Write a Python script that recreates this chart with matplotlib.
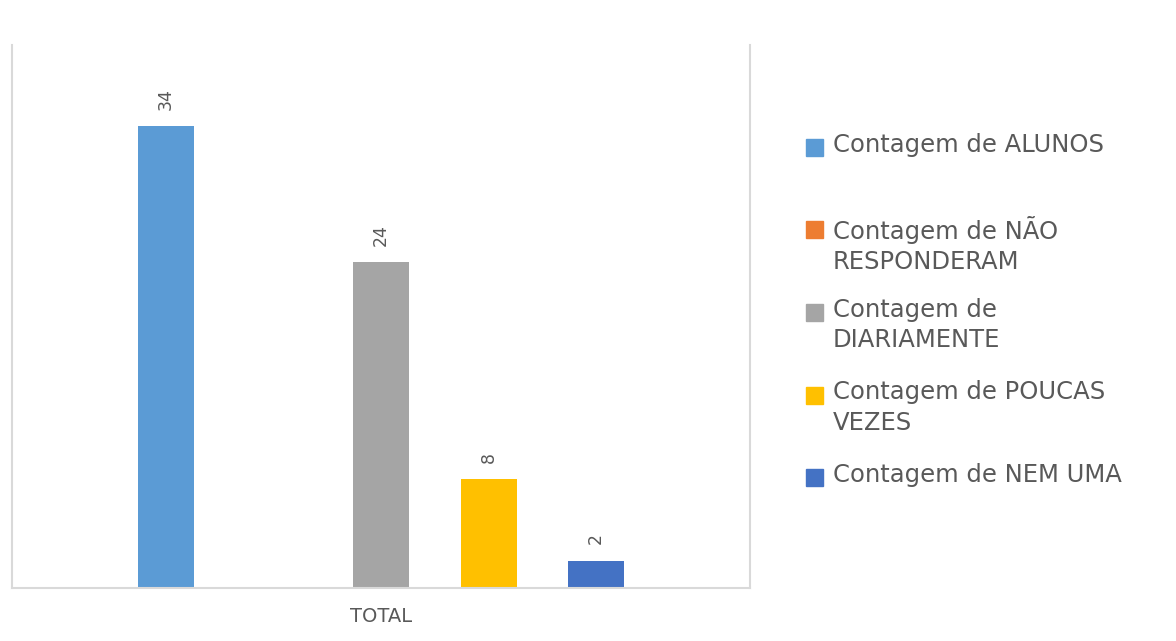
import matplotlib.pyplot as plt
import matplotlib.patches as mpatches

# data
categories = ["TOTAL"]
series_names = [
    "Contagem de ALUNOS",
    "Contagem de NÃO\nRESPONDERAM",
    "Contagem de\nDIARIAMENTE",
    "Contagem de POUCAS\nVEZES",
    "Contagem de NEM UMA",
]
series_values = [34, 0, 24, 8, 2]
series_colors = ["#5B9BD5", "#ED7D31", "#A5A5A5", "#FFC000", "#4472C4"]

plt.rcParams['font.family'] = ['DejaVu Sans']

fig = plt.figure(figsize=(11.76, 6.41), dpi=100)
W, H = 1176, 641
# plot area in pixels: x 12..750, y 45..588
ax = fig.add_axes([12 / W, 1 - 588 / H, (750 - 12) / W, (588 - 45) / H])

xpos = list(range(len(series_values)))
bars = ax.bar(xpos, series_values, width=0.52, color=series_colors)

for b, v in zip(bars, series_values):
    if v > 0:
        ax.annotate(str(v), (b.get_x() + b.get_width() / 2, v),
                    xytext=(0, 12), textcoords="offset points",
                    rotation=90, ha="center", va="bottom",
                    fontsize=12.5, color="#595959")

ax.set_xlim(-1.43, 5.43)
ax.set_ylim(0, 40)
ax.set_yticks([])
ax.set_xticks([2])
ax.set_xticklabels(categories, fontsize=14, color="#595959")
ax.tick_params(axis="x", length=0, pad=14)
for side in ["left", "right", "bottom"]:
    ax.spines[side].set_color("#D9D9D9")
    ax.spines[side].set_linewidth(1.5)
ax.spines["top"].set_visible(False)

# legend, one slot of fixed height per entry
for i, (name, color) in enumerate(zip(series_names, series_colors)):
    y = 147 + i * 82.5
    fig.patches.append(mpatches.Rectangle((806 / W, 1 - (y + 9) / H), 17 / W, 17 / H,
                                          transform=fig.transFigure, color=color))
    fig.text(833 / W, 1 - (y - 14) / H, name, fontsize=17.5, color="#595959",
             va="top", ha="left", linespacing=1.33)

fig.savefig("out.png", dpi=100)
